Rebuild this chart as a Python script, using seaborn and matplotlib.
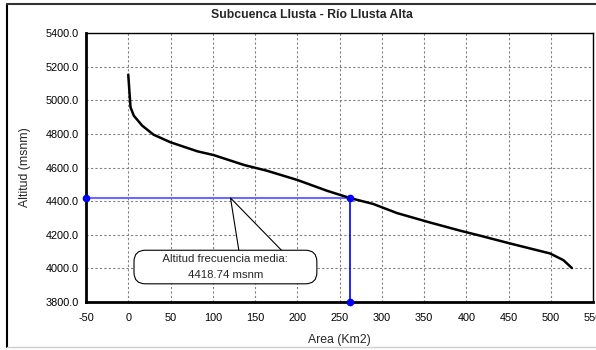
import matplotlib
matplotlib.use("Agg")
import matplotlib.pyplot as plt
import seaborn as sns
import pandas as pd
from matplotlib.lines import Line2D

# Data
area = [0, 2.7, 6.6, 16.5, 30, 50, 82, 101, 137, 164, 200, 235, 250, 262.7,
        290, 318, 357, 393, 416, 452, 499, 515, 525]
altitud = [5152, 4958, 4908, 4849, 4795, 4750, 4696, 4674, 4615, 4581, 4526,
           4462, 4438, 4418, 4383, 4329, 4273, 4224, 4195, 4148, 4089, 4049, 4002]
alt_media = 4418.74
area_media = 262.5
x_ticks = list(range(-50, 551, 50))
y_ticks = list(range(3800, 5401, 200))
title = "Subcuenca Llusta - Río Llusta Alta"
xlabel = "Area (Km2)"
ylabel = "Altitud (msnm)"
callout = "        Altitud frecuencia media:        \n4418.74 msnm"

sns.set_style("white")
plt.rcParams['font.family'] = ['Liberation Sans', 'DejaVu Sans']
plt.rcParams['axes.unicode_minus'] = False

fig = plt.figure(figsize=(5.96, 3.5), dpi=100)
ax = fig.add_axes([86/596, 1-302/350, 507/596, 269/350])

df = pd.DataFrame({"area": area, "alt": altitud})
sns.lineplot(data=df, x="area", y="alt", ax=ax, color="black", linewidth=1.8,
             sort=False, zorder=4)

# mean lines
ax.plot([x_ticks[0], area_media], [alt_media, alt_media], color="#6b6bff",
        linewidth=1.5, zorder=3, clip_on=False)
ax.plot([area_media, area_media], [alt_media, y_ticks[0]], color="#0000ff",
        linewidth=1.2, zorder=3, clip_on=False)
ax.plot([x_ticks[0], area_media, area_media], [alt_media, alt_media, y_ticks[0]],
        linestyle="none", marker="o", markersize=4.5, color="#0000ff",
        zorder=6, clip_on=False)

ax.set_xlim(x_ticks[0], x_ticks[-1])
ax.set_ylim(y_ticks[0], y_ticks[-1])
ax.set_xticks(x_ticks)
ax.set_yticks(y_ticks)
ax.set_yticklabels([f"{v:.1f}" for v in y_ticks])
ax.tick_params(axis="both", labelsize=7.8, length=4, width=1.2, direction="inout",
               colors="black")
ax.tick_params(axis="x", pad=6)
ax.tick_params(axis="y", pad=3)
ax.grid(True, color="#808080", linestyle=(0, (2, 2)), linewidth=0.8)
ax.set_axisbelow(True)
for s in ["left", "bottom"]:
    ax.spines[s].set_linewidth(2.0)
    ax.spines[s].set_color("black")
    ax.spines[s].set_zorder(5)
for s in ["top", "right"]:
    ax.spines[s].set_linewidth(1.0)
    ax.spines[s].set_color("black")

ax.set_xlabel(xlabel, fontsize=8.8, labelpad=8)
ax.set_ylabel(ylabel, fontsize=8.8, labelpad=11)
fig.text(312/596, 1-15/350, title, ha="center", va="center", fontsize=8.8,
         fontweight="bold")

ax.annotate(callout, xy=(121, alt_media), xytext=(115, 4008),
            textcoords="data", ha="center", va="center", fontsize=8.2,
            multialignment="center", linespacing=1.7,
            bbox=dict(boxstyle="round,pad=0.35,rounding_size=1.0", fc="white",
                      ec="black", lw=0.8),
            arrowprops=dict(arrowstyle="wedge,tail_width=1.7", fc="white",
                            ec="black", lw=0.8, mutation_scale=20,
                            relpos=(0.72, 0.6), shrinkA=0, shrinkB=0,
                            patchA=None),
            zorder=7)

# outer chart border
fig.add_artist(Line2D([7/596, 7/596], [1-4/350, 1-347/350], color="black",
                      linewidth=1.5, transform=fig.transFigure))
fig.add_artist(Line2D([7/596, 1], [1-4/350, 1-4/350], color="#333333",
                      linewidth=1.5, transform=fig.transFigure))
fig.add_artist(Line2D([7/596, 1], [1-347/350, 1-347/350], color="#d0d0d0",
                      linewidth=1.0, transform=fig.transFigure))

fig.savefig("out.png", dpi=100)
